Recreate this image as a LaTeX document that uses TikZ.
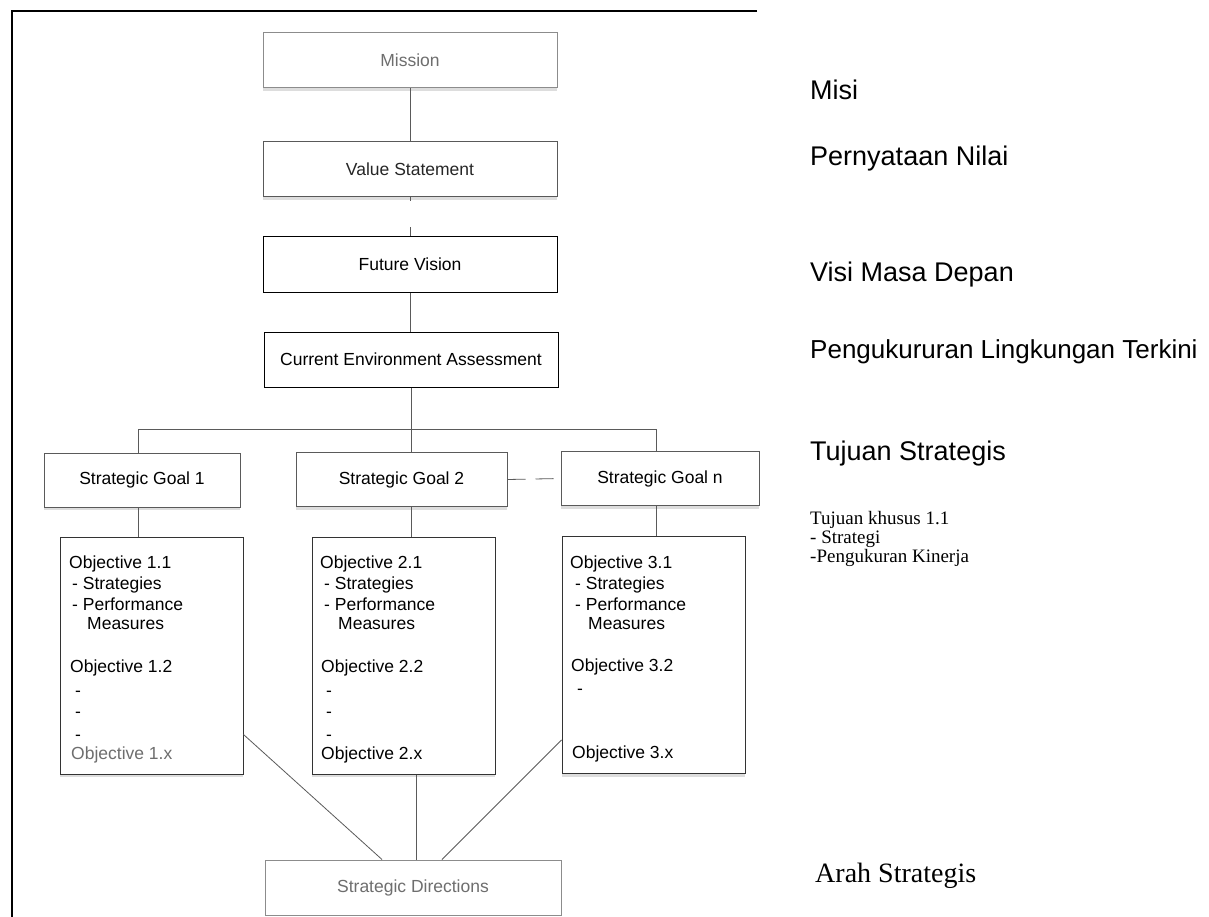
\documentclass[tikz,border=0pt]{standalone}
\usepackage{fontspec}
\setmainfont{Liberation Sans}
\newfontfamily\serifrm{Liberation Serif}
\usetikzlibrary{shadows}
\definecolor{lgray}{HTML}{8C8C8C}
\definecolor{mgray}{HTML}{5A5A5A}
\definecolor{tgray}{HTML}{6E6E6E}
\newcommand\boxfont{\fontsize{17.5}{20}\selectfont}
\newcommand\labfont{\fontsize{27}{30}\selectfont}
\begin{document}
\begin{tikzpicture}[x=1pt,y=-1pt,
  conn/.style={draw=mgray, line width=0.8pt},
  sh/.style={drop shadow={shadow xshift=0pt, shadow yshift=-3pt, fill=black!22, opacity=0.6}},
  topbox/.style={draw=#1, line width=1pt, fill=white, minimum width=294pt, minimum height=55pt, inner sep=0pt, font=\boxfont},
  gbox/.style={draw=mgray, line width=1pt, fill=white, minimum height=54pt, inner sep=0pt, font=\boxfont, sh},
  obox/.style={draw=black!80, line width=1pt, fill=white, minimum width=183pt, minimum height=237pt, inner sep=0pt, sh},
  ot/.style={anchor=base west, inner sep=0pt, font=\boxfont},
  lab/.style={anchor=base west, inner sep=0pt, font=\labfont},
  slab/.style={anchor=base west, inner sep=0pt, font=\serifrm\fontsize{19}{22}\selectfont}
]
\useasboundingbox (0,0) rectangle (1209,917);
\fill[white] (0,0) rectangle (1209,917);
% frame
\coordinate (fa) at (757,11);
\coordinate (fb) at (12,11);
\coordinate (fc) at (12,917);
\draw[black, line width=1.3pt] (fa) -- (fb) -- (fc);

% top chain
\node[topbox=lgray, text=tgray, sh] (mis) at (410,60.5) {Mission};
\node[topbox=black!65, text=black!85, sh] (vs) at (410,169.5) {Value Statement};
\node[topbox=black, text=black] (fv) at (410,264.5) {Future Vision};
\node[topbox=black, text=black] (cea) at (411,359.5) {Current Environment Assessment};

\draw[conn] (mis) -- (vs);
\draw[conn, dash pattern=on 4pt off 26pt on 12pt off 1pt] (vs.south) -- (vs.south |- fv.north);
\draw[conn] (fv.south) -- (fv.south |- cea.north);

% goals
\node[gbox, minimum width=196pt] (g1) at (142,480) {Strategic Goal 1};
\node[gbox, minimum width=211pt] (g2) at (401.5,479.5) {Strategic Goal 2};
\node[gbox, minimum width=198pt] (gn) at (660,478.5) {Strategic Goal n};

\coordinate (bus) at (411,429);
\coordinate (b1) at (138,429);
\coordinate (b3) at (656,429);
\draw[conn] (cea.south) -- (bus);
\draw[conn] (b1) -- (b3);
\draw[conn] (b1) -- (b1 |- g1.north);
\draw[conn] (bus) -- (bus |- g2.north);
\draw[conn] (b3) -- (b3 |- gn.north);
\draw[conn, dash pattern=on 18pt off 10pt on 18pt off 30pt] (g2.east) -- (gn.west);

% objective boxes
\node[obox] (o1) at (151.5,655.5) {};
\node[obox] (o2) at (403.5,655.5) {};
\node[obox] (o3) at (653.5,655) {};

\draw[conn] (b1 |- g1.south) -- (b1 |- o1.north);
\draw[conn] (bus |- g2.south) -- (bus |- o2.north);
\draw[conn] (b3 |- gn.south) -- (b3 |- o3.north);

% objective 1 text
\node[ot] (t11) at (69,568) {Objective 1.1};
\node[ot] (t12) at (72,589) {- Strategies};
\node[ot] (t13) at (72,610) {- Performance};
\node[ot] (t14) at (87,629) {Measures};
\node[ot] (t15) at (70,672) {Objective 1.2};
\node[ot] (t16) at (75,696) {-};
\node[ot] (t17) at (75,717) {-};
\node[ot] (t18) at (75,740) {-};
\node[ot, text=tgray] (t19) at (71,759) {Objective 1.x};

% objective 2 text
\node[ot] (t21) at (320,568) {Objective 2.1};
\node[ot] (t22) at (324,589) {- Strategies};
\node[ot] (t23) at (324,610) {- Performance};
\node[ot] (t24) at (338,629) {Measures};
\node[ot] (t25) at (321,672) {Objective 2.2};
\node[ot] (t26) at (326,696) {-};
\node[ot] (t27) at (326,717) {-};
\node[ot] (t28) at (326,740) {-};
\node[ot] (t29) at (321,759) {Objective 2.x};

% objective 3 text
\node[ot] (t31) at (570,568) {Objective 3.1};
\node[ot] (t32) at (575,589) {- Strategies};
\node[ot] (t33) at (575,610) {- Performance};
\node[ot] (t34) at (588,629) {Measures};
\node[ot] (t35) at (571,671) {Objective 3.2};
\node[ot] (t36) at (577,694) {-};
\node[ot] (t39) at (572,758) {Objective 3.x};

% strategic directions
\node[topbox=lgray, text=tgray, minimum width=296pt] (sd) at (413,887.5) {Strategic Directions};
\draw[conn] ([yshift=40pt]o1.south east) -- ([xshift=-31pt]sd.north);
\draw[conn] ([yshift=34pt]o3.south west) -- ([xshift=29pt]sd.north);
\draw[conn] ([xshift=3pt]sd.north) -- ([xshift=3pt]sd.north |- o2.south);

% right-hand labels
\node[lab] (l1) at (810,100) {Misi};
\node[lab] (l2) at (810,166) {Pernyataan Nilai};
\node[lab] (l3) at (810,281) {Visi Masa Depan};
\node[lab, font=\fontsize{26}{30}\selectfont] (l4) at (810,358) {Pengukururan Lingkungan Terkini};
\node[lab] (l5) at (810,460) {Tujuan Strategis};
\node[slab] (l6) at (810,524) {Tujuan khusus 1.1};
\node[slab] (l7) at (810,543) {- Strategi};
\node[slab] (l8) at (810,562) {-Pengukuran Kinerja};
\node[lab, font=\serifrm\fontsize{28}{32}\selectfont] (l9) at (815,882) {Arah Strategis};
\end{tikzpicture}
\end{document}
